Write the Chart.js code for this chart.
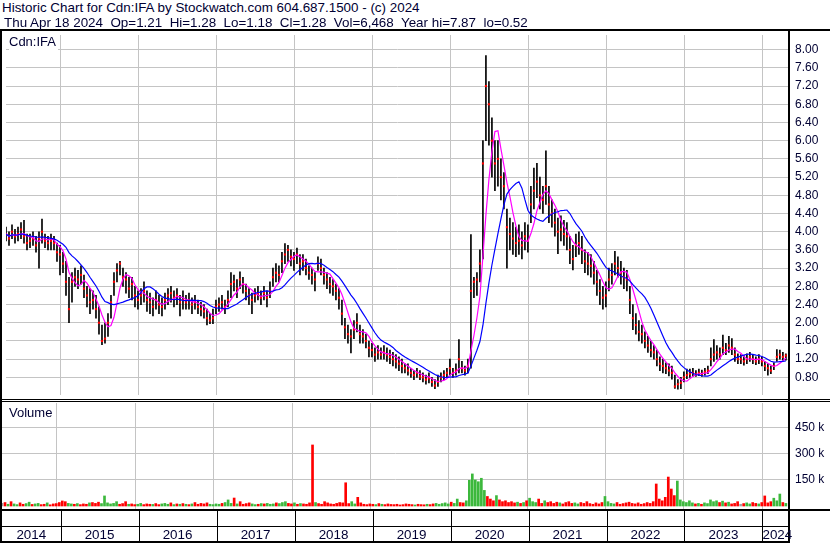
<!DOCTYPE html>
<html><head><meta charset="utf-8">
<script src="https://cdn.jsdelivr.net/npm/chart.js@4.4.1/dist/chart.umd.min.js"></script>
<style>
html,body{margin:0;padding:0;background:#fff;}
#wrap{position:relative;width:830px;height:543px;overflow:hidden;background:#fff;font-family:"Liberation Sans",Arial,sans-serif;color:#000033;}
canvas{position:absolute;}
.ln{position:absolute;background:#000;z-index:5;}
.txt{position:absolute;white-space:pre;z-index:6;}
#hdr1{left:2px;top:0px;font-size:13.4px;line-height:16px;}
#hdr2{left:4px;top:15px;font-size:13.4px;line-height:16px;}
#sym{left:9px;top:34px;font-size:13px;line-height:16px;background:#fff;padding-right:2px;}
#vol{left:9px;top:405px;font-size:13px;line-height:16px;}
.yr{position:absolute;top:527px;height:15px;line-height:15px;font-size:13.4px;text-align:center;z-index:6;}
</style></head>
<body><div id="wrap">
<div class="txt" id="hdr1">Historic Chart for Cdn:IFA by Stockwatch.com 604.687.1500 - (c) 2024</div>
<div class="txt" id="hdr2">Thu Apr 18 2024  Op=1.21  Hi=1.28  Lo=1.18  Cl=1.28  Vol=6,468  Year hi=7.87  lo=0.52</div>
<canvas id="price" width="828" height="368" style="left:2px;top:31px;"></canvas>
<canvas id="volume" width="828" height="106" style="left:2px;top:403px;"></canvas>
<div class="txt" id="sym">Cdn:IFA</div>
<div class="txt" id="vol">Volume</div>
</div>
<script>
// ---- data (two-week samples, first sample mid-April 2014) ----
const startYear = 2014.30;
const samplesPerYear = 26;
const closes = [
3.95,3.85,4.0,3.9,3.95,4.05,3.9,3.75,3.8,3.85,
3.7,3.85,4.0,3.8,3.75,3.8,3.75,3.55,3.5,3.3,
2.9,2.3,2.9,3.0,2.95,3.05,2.75,2.6,2.45,2.5,
2.3,2.0,1.6,1.65,2.0,2.45,2.9,3.15,3.3,3.0,
2.95,2.75,2.85,2.6,2.5,2.6,2.7,2.5,2.45,2.35,
2.5,2.4,2.35,2.5,2.6,2.65,2.55,2.6,2.45,2.5,
2.45,2.5,2.4,2.45,2.35,2.3,2.25,2.1,2.05,2.1,
2.35,2.4,2.45,2.35,2.5,2.85,2.9,2.75,2.95,2.85,
2.7,2.6,2.5,2.6,2.65,2.55,2.65,2.55,2.7,3.0,
3.1,3.05,3.35,3.5,3.6,3.45,3.4,3.5,3.3,3.35,
3.2,3.1,3.05,2.95,3.3,3.2,3.05,2.95,2.85,2.8,
2.7,2.55,2.2,1.9,1.75,1.7,1.85,2.0,1.75,1.7,
1.6,1.45,1.4,1.3,1.35,1.3,1.35,1.3,1.25,1.2,
1.15,1.1,1.05,1.0,0.95,0.9,0.85,0.9,0.82,0.8,
0.75,0.78,0.7,0.62,0.7,0.8,0.85,0.9,1.0,0.9,
0.95,1.2,1.0,0.95,1.05,2.7,2.9,2.95,3.3,5.5,
7.2,6.8,6.0,5.5,5.6,5.2,5.0,4.1,3.95,3.85,
3.75,3.8,3.7,3.9,3.8,4.6,4.9,5.1,4.8,4.7,
5.0,4.6,4.4,4.2,4.0,4.05,3.95,3.9,3.6,3.4,
3.7,3.75,3.6,3.35,3.3,3.25,3.1,2.9,2.7,2.55,
2.6,2.95,3.05,3.3,3.2,3.1,3.0,2.95,2.5,2.1,
1.95,1.8,1.75,1.6,1.5,1.4,1.35,1.2,1.1,1.05,
1.0,0.95,0.9,0.6,0.65,0.68,0.8,0.85,0.88,0.9,
0.87,0.9,0.88,0.92,0.95,1.2,1.3,1.35,1.3,1.45,
1.4,1.5,1.45,1.3,1.2,1.2,1.15,1.2,1.25,1.2,
1.15,1.2,1.15,1.05,1.0,0.95,1.05,1.25,1.3,1.25,1.28];
const highs = [
4.1,4.0,4.15,4.05,4.1,4.2,4.25,3.95,3.95,4.0,
3.9,4.0,4.28,3.95,3.9,3.95,3.9,3.75,3.7,3.55,
3.35,3.0,3.1,3.2,3.15,3.25,3.05,2.8,2.75,2.7,
2.6,2.35,1.95,2.0,2.2,2.6,3.1,3.3,3.35,3.2,
3.1,3.0,3.0,2.8,2.7,2.75,2.9,2.7,2.65,2.55,
2.7,2.6,2.55,2.65,2.75,2.8,2.7,2.75,2.6,2.7,
2.6,2.65,2.55,2.6,2.5,2.45,2.4,2.3,2.2,2.3,
2.5,2.55,2.6,2.5,2.7,3.1,3.05,2.95,3.12,3.0,
2.85,2.75,2.65,2.75,2.8,2.7,2.8,2.7,2.9,3.2,
3.3,3.25,3.55,3.74,3.7,3.6,3.55,3.64,3.5,3.5,
3.4,3.25,3.2,3.1,3.45,3.4,3.2,3.1,3.0,2.95,
2.85,2.75,2.5,2.1,1.95,1.85,2.05,2.2,1.95,1.85,
1.75,1.6,1.55,1.45,1.5,1.45,1.5,1.45,1.4,1.35,
1.3,1.25,1.2,1.1,1.1,1.0,0.95,1.0,0.95,0.9,
0.85,0.9,0.8,0.75,0.85,0.9,0.95,1.0,1.2,1.0,
1.1,1.63,1.15,1.05,1.2,3.94,3.0,3.1,3.6,6.0,
7.87,7.3,6.5,6.0,6.0,5.6,5.3,4.5,4.3,4.2,
4.1,4.15,4.0,4.2,4.15,5.0,5.4,5.5,5.2,5.0,
5.78,5.0,4.7,4.5,4.3,4.35,4.25,4.2,3.9,3.7,
3.95,4.0,3.9,3.6,3.55,3.5,3.35,3.15,2.95,2.8,
2.9,3.2,3.3,3.57,3.45,3.35,3.2,3.15,2.8,2.4,
2.2,2.05,1.95,1.8,1.7,1.6,1.5,1.4,1.25,1.2,
1.12,1.1,1.05,0.85,0.75,0.8,0.92,0.98,0.98,1.0,
0.95,0.98,0.96,1.0,1.05,1.45,1.63,1.5,1.45,1.73,
1.55,1.7,1.65,1.45,1.32,1.3,1.28,1.32,1.35,1.3,
1.25,1.3,1.25,1.15,1.1,1.05,1.12,1.41,1.4,1.35,1.32];
const lows = [
3.8,3.7,3.85,3.75,3.8,3.85,3.75,3.6,3.65,3.7,
3.55,3.2,3.75,3.65,3.6,3.6,3.6,3.35,3.05,3.1,
2.6,2.0,2.45,2.8,2.75,2.85,2.55,2.35,2.2,2.3,
2.1,1.75,1.52,1.55,1.7,2.1,2.6,2.9,3.05,2.8,
2.65,2.55,2.5,2.35,2.3,2.4,2.45,2.25,2.2,2.15,
2.3,2.2,2.15,2.3,2.4,2.45,2.35,2.4,2.15,2.3,
2.3,2.3,2.2,2.3,2.2,2.15,2.1,1.95,1.98,1.98,
2.2,2.25,2.3,2.2,2.35,2.55,2.7,2.55,2.75,2.65,
2.5,2.4,2.2,2.45,2.5,2.4,2.5,2.35,2.55,2.8,
2.9,2.9,3.1,3.3,3.35,3.25,3.15,3.3,3.05,3.15,
3.05,2.95,2.85,2.7,3.15,3.05,2.85,2.75,2.65,2.6,
2.5,2.3,1.95,1.65,1.55,1.34,1.65,1.8,1.55,1.55,
1.45,1.25,1.25,1.15,1.2,1.2,1.2,1.15,1.1,1.05,
1.0,0.95,0.9,0.9,0.85,0.8,0.75,0.8,0.75,0.7,
0.65,0.68,0.6,0.55,0.6,0.7,0.75,0.8,0.85,0.8,
0.85,0.9,0.9,0.85,0.9,1.0,2.55,2.6,2.9,3.4,
6.0,5.9,5.2,4.9,5.0,4.7,4.5,3.2,3.6,3.5,
3.45,3.5,3.4,3.6,3.55,4.2,4.5,4.75,4.5,4.4,
4.6,4.2,4.1,3.9,3.52,3.8,3.7,3.6,3.3,3.16,
3.45,3.5,3.3,3.1,3.05,3.0,2.85,2.6,2.4,2.3,
2.35,2.7,2.85,3.05,3.0,2.85,2.75,2.7,2.2,1.85,
1.75,1.6,1.55,1.45,1.35,1.25,1.2,1.05,0.95,0.9,
0.88,0.83,0.76,0.56,0.54,0.55,0.7,0.77,0.8,0.82,
0.82,0.84,0.82,0.85,0.88,1.05,1.15,1.2,1.2,1.3,
1.3,1.35,1.3,1.15,1.1,1.1,1.07,1.1,1.15,1.1,
1.08,1.1,1.05,0.95,0.85,0.88,0.97,1.15,1.2,1.18,1.18];
const volumesK = [
15,20,10,25,12,8,18,10,14,22,
9,12,15,8,10,18,7,12,14,20,
29,25,15,12,10,14,8,12,10,18,
20,15,22,14,58,18,12,15,25,10,
14,25,10,12,8,10,15,8,12,10,
9,14,8,12,15,10,18,8,12,10,
14,10,8,12,20,10,15,12,18,10,
8,12,10,15,20,35,15,46,12,25,
10,14,18,12,8,10,14,12,15,10,
12,18,14,20,25,15,12,18,10,14,
12,10,18,352,20,14,10,25,18,12,
10,15,20,18,134,14,25,12,50,18,
10,8,12,10,8,14,10,8,12,9,
8,10,6,8,12,10,8,6,10,8,
7,10,8,12,15,10,14,18,12,22,
15,40,20,18,30,148,185,150,140,160,
90,55,40,30,60,35,25,30,20,25,
18,22,15,20,30,45,25,20,40,15,
30,20,25,15,22,18,12,20,25,15,
18,12,20,15,25,14,10,18,12,20,
55,25,15,12,20,10,14,18,22,15,
12,18,10,14,20,15,25,127,40,30,
50,167,98,60,144,35,25,20,30,18,
12,15,10,18,14,35,25,30,20,28,
18,22,12,15,25,10,14,18,12,20,
15,12,20,58,18,25,45,30,69,20,15];
const priceTicks = [0.8,1.2,1.6,2.0,2.4,2.8,3.2,3.6,4.0,4.4,4.8,5.2,5.6,6.0,6.4,6.8,7.2,7.6,8.0];
const volumeTicksK = [150,300,450];
const yearLabels = [2014,2015,2016,2017,2018,2019,2020,2021,2022,2023,2024];
const fastMAWindow = 5;   // samples
const slowMAWindow = 13;  // samples

// ---- derived ----
const X_MIN = 2014.30, X_MAX = 2024.34;
const dates = closes.map((_, i) => startYear + i / samplesPerYear);
function sma(arr, n) {
  return arr.map((_, i) => {
    const s = Math.max(0, i - n + 1);
    const w = arr.slice(s, i + 1);
    return w.reduce((a, b) => a + b, 0) / w.length;
  });
}
const fast = sma(closes, fastMAWindow), slow = sma(closes, slowMAWindow);
const yearStarts = yearLabels.slice(1);
const GRID = '#c4c4c4', TXT = '#000033';
const xScale = {
  type: 'linear', min: X_MIN, max: X_MAX, offset: false,
  ticks: { display: false },
  grid: { color: GRID, drawTicks: false, offset: false, lineWidth: 1 },
  border: { display: false },
  afterBuildTicks: s => { s.ticks = yearStarts.map(v => ({ value: v })); },
  afterFit: s => { s.height = 0; s.paddingLeft = 0; s.paddingRight = 0; }
};
const common = {
  responsive: false, animation: false, devicePixelRatio: 1,
  layout: { padding: 0 },
  plugins: { legend: { display: false }, tooltip: { enabled: false } }
};
const priceChart = new Chart(document.getElementById('price'), {
  type: 'bar',
  data: { datasets: [
    { type: 'line', data: dates.map((x, i) => ({ x, y: slow[i] })), borderColor: '#0000ff', borderWidth: 1.2, pointRadius: 0, tension: 0, order: 1 },
    { type: 'line', data: dates.map((x, i) => ({ x, y: fast[i] })), borderColor: '#ff00ff', borderWidth: 1.2, pointRadius: 0, tension: 0, order: 2 },
    { type: 'line', data: dates.map((x, i) => ({ x, y: closes[i] })), showLine: false, pointStyle: 'rect', pointRadius: 1.5, pointBackgroundColor: '#ff0000', pointBorderWidth: 0, order: 3 },
    { type: 'bar', data: dates.map((x, i) => ({ x, y: [lows[i], highs[i]] })), backgroundColor: '#000000', barThickness: 1, order: 4 }
  ] },
  options: Object.assign({}, common, {
    scales: {
      x: xScale,
      y: {
        position: 'right', min: 0.413, max: 8.322,
        ticks: { color: TXT, padding: 6, font: { family: '"Liberation Sans", Arial, sans-serif', size: 12 }, callback: v => Number(v).toFixed(2) },
        grid: { color: GRID, drawTicks: false },
        border: { display: false },
        afterBuildTicks: s => { s.ticks = priceTicks.map(v => ({ value: v })); },
        afterFit: s => { s.width = 41; s.paddingTop = 0; s.paddingBottom = 0; }
      }
    }
  })
});
const volColors = closes.map((c, i) => i === 0 ? '#a0a0a0' : (c > closes[i - 1] ? '#3cb83c' : (c < closes[i - 1] ? '#ff0000' : '#a0a0a0')));
const volumeChart = new Chart(document.getElementById('volume'), {
  type: 'bar',
  data: { datasets: [
    { data: dates.map((x, i) => ({ x, y: volumesK[i] })), backgroundColor: volColors, barThickness: 2 }
  ] },
  options: Object.assign({}, common, {
    scales: {
      x: Object.assign({}, xScale),
      y: {
        position: 'right', min: -17.3, max: 594,
        ticks: { color: TXT, padding: 6, font: { family: '"Liberation Sans", Arial, sans-serif', size: 12 }, callback: v => v + ' k' },
        grid: { color: GRID, drawTicks: false },
        border: { display: false },
        afterBuildTicks: s => { s.ticks = volumeTicksK.map(v => ({ value: v })); },
        afterFit: s => { s.width = 41; s.paddingTop = 0; s.paddingBottom = 0; }
      }
    }
  })
});

// ---- frame lines and year strip (positions from the chart's x scale) ----
const wrap = document.getElementById('wrap');
function line(l, t, w, h) { const d = document.createElement('div'); d.className = 'ln'; Object.assign(d.style, { left: l + 'px', top: t + 'px', width: w + 'px', height: h + 'px' }); wrap.appendChild(d); }
line(0, 29, 830, 2);
line(0, 29, 2, 514);
line(788, 29, 2, 514);
line(0, 399, 830, 1);
line(0, 401, 830, 1);
line(0, 509, 830, 2);
line(0, 526, 790, 1);
line(0, 541, 790, 2);
const xs = priceChart.scales.x;
const px = v => 2 + xs.getPixelForValue(v);
yearStarts.forEach(v => line(Math.round(px(v)), 511, 1, 31));
const bounds = [2].concat(yearStarts.map(px)).concat([788]);
yearLabels.forEach((y, k) => {
  const d = document.createElement('div'); d.className = 'yr';
  d.style.left = bounds[k] + 'px'; d.style.width = (bounds[k + 1] - bounds[k]) + 'px';
  d.textContent = String(y); wrap.appendChild(d);
});
</script>
</body></html>
